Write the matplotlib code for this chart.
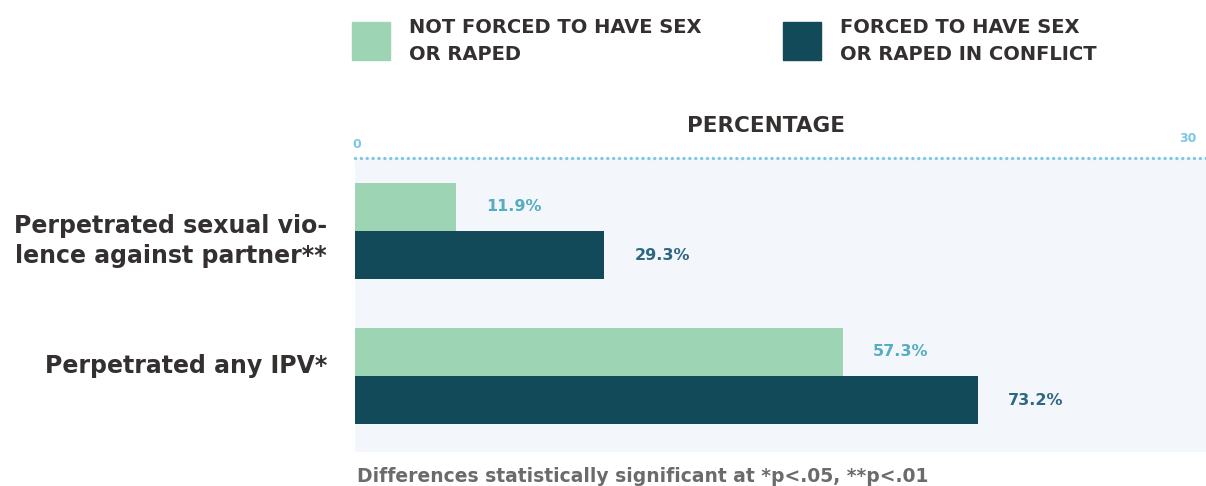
import matplotlib
matplotlib.use("Agg")
import matplotlib.pyplot as plt
import matplotlib.transforms as mtransforms
from matplotlib.patches import Rectangle

# dados
categorias = ["Perpetrated sexual vio-\nlence against partner**", "Perpetrated any IPV*"]
nao_forcados = [11.9, 57.3]
forcados = [29.3, 73.2]
series_nomes = ["NOT FORCED TO HAVE SEX\nOR RAPED", "FORCED TO HAVE SEX\nOR RAPED IN CONFLICT"]
eixo_ticks = [0, 100]
eixo_rotulos = ["0", "30"]

cor_clara = "#9DD4B3"
cor_escura = "#124A59"
cor_rot_clara = "#55AEBF"
cor_rot_escura = "#2E6880"
cor_eixo = "#7CC6E6"
cor_fundo = "#F3F6FB"
cor_texto = "#343030"

plt.rcParams["font.family"] = ["DejaVu Sans"]

W, H = 1206, 486
fig = plt.figure(figsize=(W / 100, H / 100), dpi=100)
ax = fig.add_axes([355 / W, (H - 452) / H, (W - 355) / W, (452 - 158) / H])
ax.set_facecolor(cor_fundo)

altura = 0.334
y = list(range(len(categorias)))
y_claro = [v - altura / 2 for v in y]
y_escuro = [v + altura / 2 for v in y]
b1 = ax.barh(y_claro, nao_forcados, height=altura, color=cor_clara)
b2 = ax.barh(y_escuro, forcados, height=altura, color=cor_escura)

for barras, valores, cor in [(b1, nao_forcados, cor_rot_clara), (b2, forcados, cor_rot_escura)]:
    for barra, v in zip(barras, valores):
        ax.annotate(f"{v}%", (v, barra.get_y() + barra.get_height() / 2),
                    xytext=(30, 0), textcoords="offset pixels",
                    ha="left", va="center", color=cor, fontsize=11.5, fontweight="bold")

ax.set_xlim(0, 100)
ax.set_ylim(1.524, -0.503)
ax.set_yticks([])
ax.set_xticks([])

# rótulos das categorias (um pouco deslocados para o centro, como no original)
desloc = [-10, 10]
for yi, nome, d in zip(y, categorias, desloc):
    ax.annotate(nome, (0, yi), xytext=(-28, d), textcoords="offset pixels",
                ha="right", va="center", multialignment="right", linespacing=1.33,
                fontsize=17, fontweight="bold", color=cor_texto, annotation_clip=False)

for s in ["left", "right", "bottom"]:
    ax.spines[s].set_visible(False)
ax.spines["top"].set_color(cor_eixo)
ax.spines["top"].set_linewidth(2.4)
ax.spines["top"].set_linestyle((0, (0.01, 1.75)))
ax.spines["top"].set_capstyle("round")

# rótulos do eixo superior
trans = mtransforms.blended_transform_factory(ax.transData, ax.transAxes)
ax.annotate(eixo_rotulos[0], (eixo_ticks[0], 1.045), xycoords=trans,
            xytext=(2, 0), textcoords="offset pixels", ha="center", va="center",
            color=cor_eixo, fontsize=9, fontweight="bold")
ax.annotate(eixo_rotulos[1], (eixo_ticks[1], 1.065), xycoords=trans,
            xytext=(-18, 0), textcoords="offset pixels", ha="center", va="center",
            color=cor_eixo, fontsize=9, fontweight="bold")
fig.text(766 / W, 1 - 126 / H, "PERCENTAGE", ha="center", va="center",
         fontsize=15.5, fontweight="bold", color=cor_texto)

# legenda
for x0, cor, nome in [(352, cor_clara, series_nomes[0]), (783, cor_escura, series_nomes[1])]:
    fig.patches.append(Rectangle((x0 / W, 1 - 60 / H), 38 / W, 38 / H,
                                 transform=fig.transFigure, color=cor))
    fig.text((x0 + 57) / W, 1 - 41 / H, nome, ha="left", va="center",
             fontsize=14, fontweight="bold", color=cor_texto, linespacing=1.5)

fig.text(357 / W, 1 - 476 / H, "Differences statistically significant at *p<.05, **p<.01",
         ha="left", va="center", fontsize=13.5, fontweight="bold", color="#6B6B6B")

fig.savefig("out.png", dpi=100)
